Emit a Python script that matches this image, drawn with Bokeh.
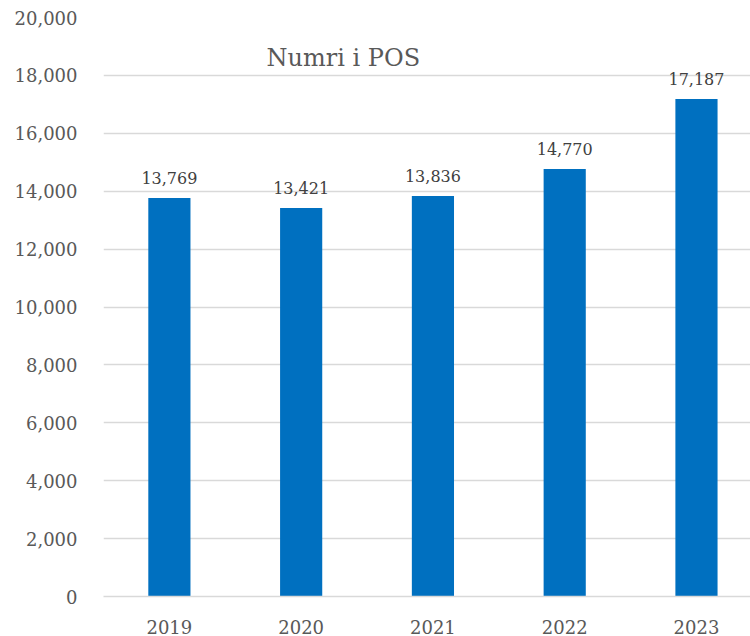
from bokeh.plotting import figure
from bokeh.models import ColumnDataSource, FixedTicker, Range1d, NumeralTickFormatter
from bokeh.core.properties import value
from bokeh.embed import file_html
from bokeh.resources import INLINE

years = ["2019", "2020", "2021", "2022", "2023"]
pos_counts = [13769, 13421, 13836, 14770, 17187]
y_ticks = [0, 2000, 4000, 6000, 8000, 10000, 12000, 14000, 16000, 18000, 20000]
title_text = "Numri i POS"

xs = list(range(len(years)))
labels = [f"{v:,}" for v in pos_counts]
src = ColumnDataSource(dict(x=xs, top=pos_counts, label=labels))

FONT = "DejaVu Serif"

# the original plot area runs past the right edge of the window
p = figure(width=750, height=636, output_backend="svg", toolbar_location=None,
           x_range=Range1d(-0.5, len(years) - 0.59), y_range=Range1d(0, 20000))
p.min_border_left = 103
p.min_border_right = 0
p.min_border_top = 17
p.min_border_bottom = 37
p.outline_line_color = None
p.background_fill_color = "white"
p.border_fill_color = "white"

p.vbar(x="x", top="top", width=0.32, source=src, color="#0070C0", line_color=None)
p.text(x="x", y="top", text="label", source=src, text_align="center",
       text_baseline="bottom", y_offset=-14, text_font=value(FONT),
       text_font_size="16px", text_color="#404040")
p.text(x=[1.32], y=[18600], text=[title_text], text_align="center",
       text_baseline="middle", text_font=value(FONT), text_font_size="24px",
       text_color="#595959")

p.xgrid.visible = False
p.ygrid.ticker = FixedTicker(ticks=y_ticks)
p.ygrid.grid_line_color = "#d9d9d9"
p.ygrid.grid_line_width = 1.5

p.yaxis.ticker = FixedTicker(ticks=y_ticks)
p.yaxis.formatter = NumeralTickFormatter(format="0,0")
p.yaxis.axis_line_color = None
p.yaxis.major_tick_line_color = None
p.yaxis.minor_tick_line_color = None
p.yaxis.major_label_standoff = 20
p.yaxis.major_label_text_font = FONT
p.yaxis.major_label_text_font_size = "18px"
p.yaxis.major_label_text_color = "#595959"

p.xaxis.ticker = FixedTicker(ticks=xs)
p.xaxis.major_label_overrides = {i: y for i, y in zip(xs, years)}
p.xaxis.axis_line_color = "#d9d9d9"
p.xaxis.axis_line_width = 1.5
p.xaxis.major_tick_line_color = None
p.xaxis.minor_tick_line_color = None
p.xaxis.major_label_standoff = 17
p.xaxis.major_label_text_font = FONT
p.xaxis.major_label_text_font_size = "18px"
p.xaxis.major_label_text_color = "#595959"

open("out.html", "w").write(file_html(p, INLINE))
